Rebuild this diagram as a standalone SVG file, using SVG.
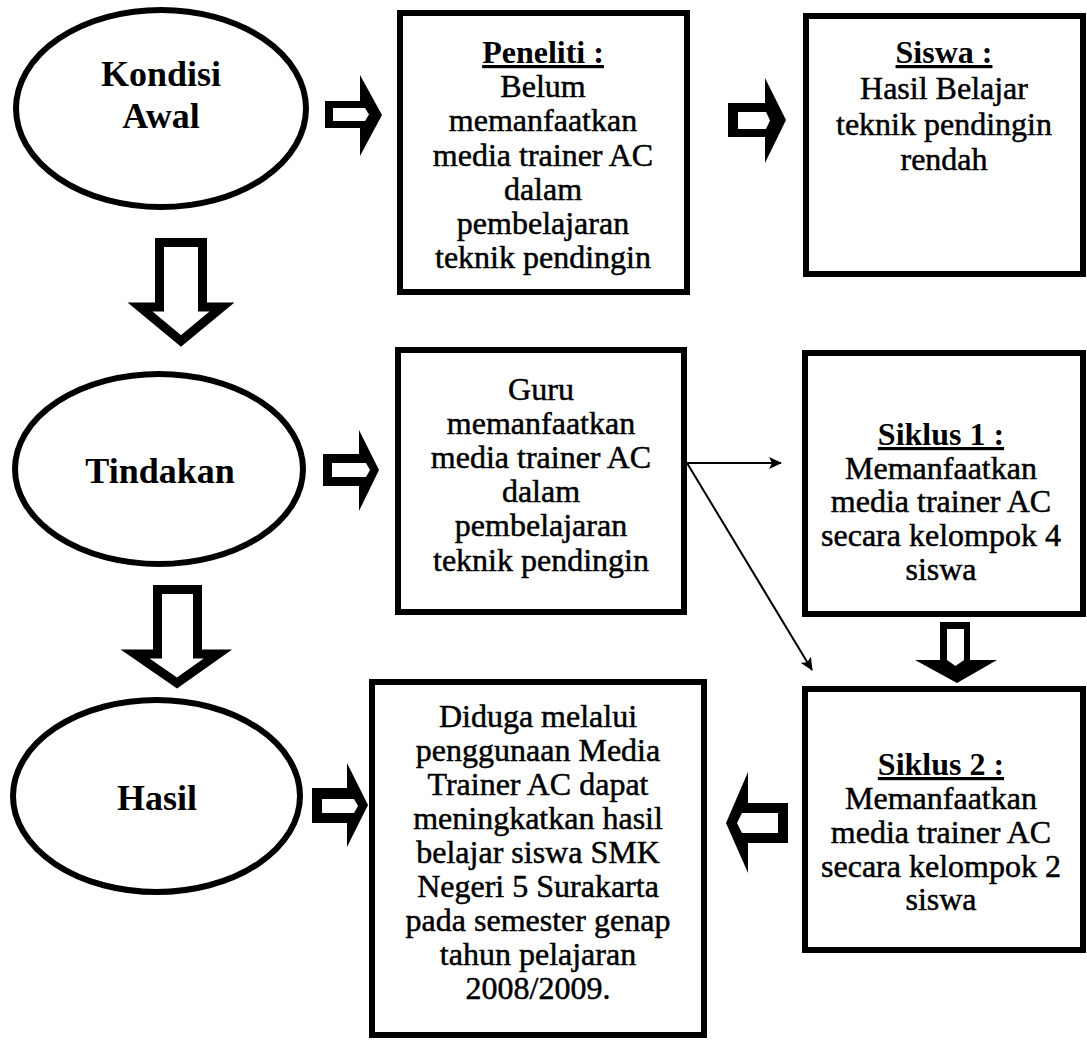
<svg xmlns="http://www.w3.org/2000/svg" width="1087" height="1041" viewBox="0 0 1087 1041">
<style>
.box{fill:#fff;stroke:#000;stroke-width:6}
.ell{fill:#fff;stroke:#000;stroke-width:6}
.big{fill:#fff;stroke:#000;stroke-width:9;stroke-linejoin:miter}
.solid{fill:#000;stroke:none}
.hole{fill:#fff;stroke:none}
.thin{fill:none;stroke:#000;stroke-width:2}
text{font-family:"Liberation Serif","Times New Roman",serif;fill:#000;text-anchor:middle}
.t{font-size:32px;stroke:#000;stroke-width:0.5}
.h{font-size:32px;font-weight:bold;text-decoration:underline}
.e{font-size:36px;font-weight:bold}
</style>
<defs>
<marker id="ah" markerUnits="userSpaceOnUse" markerWidth="14" markerHeight="12" refX="12" refY="6" orient="auto">
<path d="M0,0 L13,6 L0,12 L3,6 Z" fill="#000"/>
</marker>
</defs>
<rect width="1087" height="1041" fill="#fff"/>

<g id="kondisi-awal">
<ellipse class="ell" cx="161" cy="108.5" rx="145" ry="98.5"/>
<text class="e" x="161" y="86">Kondisi</text>
<text class="e" x="161" y="128">Awal</text>
</g>

<g id="tindakan">
<ellipse class="ell" cx="159" cy="469" rx="144" ry="95"/>
<text class="e" x="160" y="483">Tindakan</text>
</g>

<g id="hasil">
<ellipse class="ell" cx="156.5" cy="796" rx="143.5" ry="96"/>
<text class="e" x="157" y="810">Hasil</text>
</g>

<g id="peneliti">
<rect class="box" x="400" y="13" width="287" height="279"/>
<text class="h" x="543" y="63">Peneliti :</text>
<text class="t" x="543" y="97">Belum</text>
<text class="t" x="543" y="131">memanfaatkan</text>
<text class="t" x="543" y="166">media trainer AC</text>
<text class="t" x="543" y="200">dalam</text>
<text class="t" x="543" y="234">pembelajaran</text>
<text class="t" x="543" y="268">teknik pendingin</text>
</g>

<g id="siswa">
<rect class="box" x="806" y="16" width="277" height="258"/>
<text class="h" x="944" y="63">Siswa :</text>
<text class="t" x="944" y="99">Hasil Belajar</text>
<text class="t" x="944" y="135">teknik pendingin</text>
<text class="t" x="944" y="170">rendah</text>
</g>

<g id="guru">
<rect class="box" x="398" y="350" width="286" height="262"/>
<text class="t" x="541" y="400">Guru</text>
<text class="t" x="541" y="434">memanfaatkan</text>
<text class="t" x="541" y="468">media trainer AC</text>
<text class="t" x="541" y="502">dalam</text>
<text class="t" x="541" y="536">pembelajaran</text>
<text class="t" x="541" y="571">teknik pendingin</text>
</g>

<g id="siklus1">
<rect class="box" x="805" y="353" width="278" height="261"/>
<text class="h" x="941" y="445">Siklus 1 :</text>
<text class="t" x="941" y="479">Memanfaatkan</text>
<text class="t" x="941" y="512">media trainer AC</text>
<text class="t" x="941" y="546">secara kelompok 4</text>
<text class="t" x="941" y="580">siswa</text>
</g>

<g id="siklus2">
<rect class="box" x="805" y="689" width="278" height="261"/>
<text class="h" x="941" y="775">Siklus 2 :</text>
<text class="t" x="941" y="809">Memanfaatkan</text>
<text class="t" x="941" y="843">media trainer AC</text>
<text class="t" x="941" y="877">secara kelompok 2</text>
<text class="t" x="941" y="910">siswa</text>
</g>

<g id="diduga">
<rect class="box" x="372" y="682" width="332" height="353"/>
<text class="t" x="538" y="727">Diduga melalui</text>
<text class="t" x="538" y="761">penggunaan Media</text>
<text class="t" x="538" y="795">Trainer AC dapat</text>
<text class="t" x="538" y="829">meningkatkan hasil</text>
<text class="t" x="538" y="863">belajar siswa SMK</text>
<text class="t" x="538" y="897">Negeri 5 Surakarta</text>
<text class="t" x="538" y="931">pada semester genap</text>
<text class="t" x="538" y="965">tahun pelajaran</text>
<text class="t" x="538" y="999">2008/2009.</text>
</g>

<g id="connectors">
<path class="solid" d="M325,101 H360 V75 L382,115 L360,156 V128 H325 Z"/>
<path class="hole" d="M333,108 H365 L369,114.5 L365,121 H333 Z"/>
<path class="solid" d="M728,103 H765 V78 L786,120 L765,163 V137 H728 Z"/>
<path class="hole" d="M738,112 H766 L770,120.5 L766,129 H738 Z"/>
<path class="solid" d="M323,454 H359 V430 L379,470 L359,511 V486 H323 Z"/>
<path class="hole" d="M332,463 H366 L370,470 L366,477 H332 Z"/>
<path class="solid" d="M312,788 H347 V763 L368,805 L347,847 V823 H312 Z"/>
<path class="hole" d="M322,799 H354 L358,806 L354,813 H322 Z"/>
<path class="solid" d="M788,803 H748 V772 L726,823 L748,873 V843 H788 Z"/>
<path class="hole" d="M778,813 H742 L737,823 L742,833 H778 Z"/>
<path class="big" d="M159.5,242.5 H202.5 V307 H222 L181,341 L140,307 H159.5 Z"/>
<path class="big" d="M157.5,589.5 H197.5 V654 H218 L177,683 L135,654 H157.5 Z"/>
<path class="solid" d="M940,622 H970 V660 H997 L957,683 L915,660 H940 Z"/>
<path class="hole" d="M947,629 H964 V660 L955.5,666 L947,660 Z"/>
<line class="thin" x1="687" y1="463" x2="781" y2="463" marker-end="url(#ah)"/>
<line class="thin" x1="687" y1="463" x2="812" y2="670" marker-end="url(#ah)"/>
</g>
</svg>
